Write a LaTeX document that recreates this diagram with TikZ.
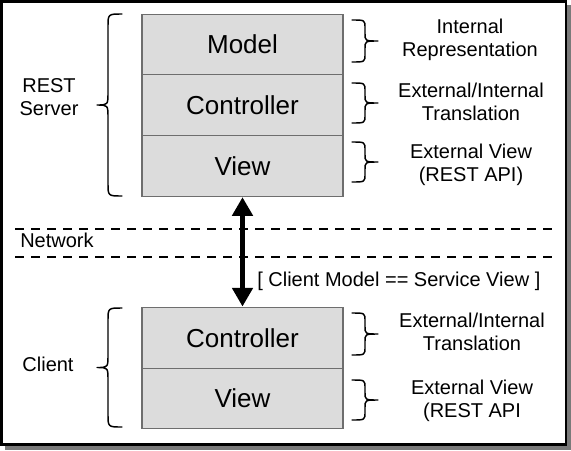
\documentclass[tikz,border=0pt]{standalone}
\usepackage{fontspec}
\setmainfont{Liberation Sans}
\usetikzlibrary{arrows.meta}
\definecolor{boxfill}{HTML}{DCDCDC}
\definecolor{boxline}{HTML}{6E6E6E}
\definecolor{shadowgray}{HTML}{7A7A7A}
\newcommand{\curlybr}[6]{% x0 x1 x2 y1 y2 r
  \draw[bracestyle] (#1,#4) .. controls (#2,#4) .. (#2,{#4+#6})
    -- (#2,{(#4+#5)/2-#6}) .. controls (#2,{(#4+#5)/2}) .. (#3,{(#4+#5)/2})
    .. controls (#2,{(#4+#5)/2}) .. (#2,{(#4+#5)/2+#6})
    -- (#2,{#5-#6}) .. controls (#2,#5) .. (#1,#5);}
\begin{document}
\begin{tikzpicture}[x=0.75pt,y=-0.75pt,
  layerbox/.style={draw=boxline,fill=boxfill,line width=0.8pt,
    minimum width=150.75pt,minimum height=45.5pt,inner sep=0pt,
    font=\fontsize{19.5pt}{22pt}\selectfont},
  sidelabel/.style={align=center,inner sep=0pt,
    font=\fontsize{15pt}{17.6pt}\selectfont},
  bracestyle/.style={draw=black,line width=1.1pt,line cap=round,line join=round},
  netline/.style={draw=black,line width=1.1pt,dash pattern=on 7pt off 5pt},
  bigarrow/.style={line width=3.8pt,{Triangle[width=15pt,length=14pt]}-{Triangle[width=15pt,length=14pt]},shorten <=0.3pt,shorten >=0.3pt}]
\useasboundingbox (0,0) rectangle (571,450);
% frame with shadow
\fill[shadowgray] (5,5) rectangle (570.5,449.5);
\draw[fill=white,line width=1.6pt] (1.5,1.5) rectangle (566,444.5);
% server stack
\node[layerbox] (sModel) at (242.5,44.5) {Model};
\node[layerbox] (sCtrl) at (242.5,105.2) {Controller};
\node[layerbox] (sView) at (242.5,165.9) {View};
% client stack
\node[layerbox] (cCtrl) at (242.5,337.8) {Controller};
\node[layerbox] (cView) at (242.5,398.5) {View};
% network lines
\coordinate (n1a) at (15,229);
\coordinate (n1b) at (555,229);
\coordinate (n2a) at (15,257);
\coordinate (n2b) at (555,257);
\draw[netline] (n1a) -- (n1b);
\draw[netline] (n2a) -- (n2b);
\node[sidelabel,anchor=west] (netlbl) at (20,240) {Network};
% arrow
\draw[bigarrow] (sView.south) -- (cCtrl.north);
\node[sidelabel,anchor=west] (arrlbl) at (257,281) {[ Client Model == Service View ]};
% left braces
\curlybr{122}{108}{97}{14}{196}{13}
\curlybr{122}{108}{97}{308}{427}{13}
\node[sidelabel] (restlbl) at (49,97) {REST\\Server};
\node[sidelabel] (clientlbl) at (48,364) {Client};
% right braces
\curlybr{352}{365}{378}{20}{62}{8}
\curlybr{352}{365}{378}{83}{123}{8}
\curlybr{352}{365}{378}{142}{182}{8}
\curlybr{352}{365}{378}{313}{355}{8}
\curlybr{352}{365}{378}{380}{420}{8}
\node[sidelabel] (lbl1) at (470,40) {Internal\\Representation};
\node[sidelabel] (lbl2) at (471,102) {External/Internal\\Translation};
\node[sidelabel] (lbl3) at (471,165) {External View\\(REST API)};
\node[sidelabel] (lbl4) at (472,332) {External/Internal\\Translation};
\node[sidelabel] (lbl5) at (472,401) {External View\\(REST API};
\end{tikzpicture}
\end{document}
